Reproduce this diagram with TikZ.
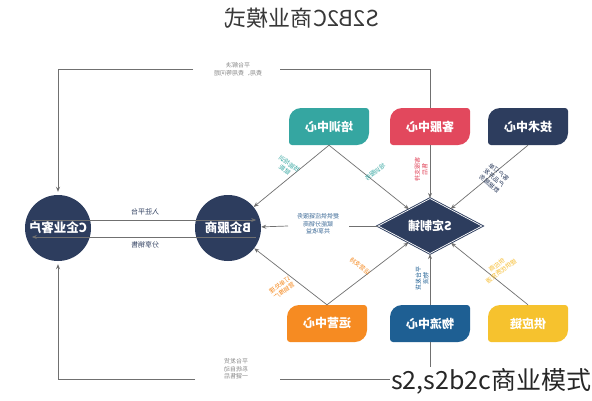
\documentclass[tikz,border=0pt]{standalone}
\usepackage{fontspec}
\setmainfont{Noto Sans CJK SC}
\usetikzlibrary{arrows.meta,shapes.geometric}
\definecolor{navy}{HTML}{2D3D5E}
\definecolor{teal}{HTML}{35A6A1}
\definecolor{rose}{HTML}{E2485D}
\definecolor{orng}{HTML}{F68B22}
\definecolor{blu}{HTML}{1E5F93}
\definecolor{yel}{HTML}{F6C22E}
\definecolor{lgray}{HTML}{707070}
\definecolor{tgray}{HTML}{8A8A8A}
\definecolor{lblue}{HTML}{3A6895}
\newcommand\leafbox[3]{%
  \fill[#3] (#1-40,#2+18.5-12) arc[start angle=180,end angle=90,radius=12]
    -- (#1+40-3,#2+18.5) arc[start angle=90,end angle=0,radius=3]
    -- (#1+40,#2-18.5+12) arc[start angle=0,end angle=-90,radius=12]
    -- (#1-40+3,#2-18.5) arc[start angle=-90,end angle=-180,radius=3] -- cycle;}
\tikzset{
  boxtext/.style={minimum width=80pt,minimum height=37pt,inner sep=0pt,text=white,
    font=\bfseries\fontsize{12}{14}\selectfont,xscale=-1},
  circ/.style={circle,fill=navy,minimum size=66pt,inner sep=0pt,text=white,
    font=\bfseries\fontsize{12.5}{14}\selectfont,xscale=-1},
  dia/.style={diamond,fill=navy,draw=navy,double=white,double distance=0.7pt,line width=0.9pt,
    minimum width=104pt,minimum height=54pt,inner sep=0pt,text=white,
    font=\bfseries\fontsize{12}{14}\selectfont},
  conn/.style={draw=lgray,line width=0.7pt},
  arr/.style={conn,-{Stealth[length=5pt,width=4pt]}},
  smalltxt/.style={font=\fontsize{6}{7.5}\selectfont,align=center,inner sep=0pt,xscale=-1},
  midtxt/.style={font=\fontsize{7}{8.5}\selectfont,align=center,inner sep=0pt,xscale=-1}
}
\begin{document}
\begin{tikzpicture}[x=1pt,y=1pt]
\useasboundingbox (0,0) rectangle (592,-400);
\fill[white] (0,0) rectangle (592,-400);

% title
\node[font=\fontsize{22}{24}\selectfont,text=black!78,xscale=-1] (title) at (302,-18) {S2B2C商业模式};

% boxes
\leafbox{329}{-126.5}{teal}
\leafbox{430}{-126.5}{rose}
\leafbox{528}{-126.5}{navy}
\leafbox{327}{-323.5}{orng}
\leafbox{430}{-323.5}{blu}
\leafbox{528}{-323.5}{yel}
\node[boxtext] (peixun) at (329,-126.5) {培训中心};
\node[boxtext] (kefu) at (430,-126.5) {客服中心};
\node[boxtext] (tech) at (528,-126.5) {技术中心};
\node[boxtext] (yy) at (327,-323.5) {运营中心};
\node[boxtext] (wuliu) at (430,-323.5) {物流中心};
\node[boxtext] (gyl) at (528,-323.5) {供应链};

% circles and diamond
\node[circ] (C) at (58,-228) {C企业客户};
\node[circ] (B) at (228,-228) {B企服商};
\node[dia] (S) at (430,-226) {\reflectbox{S定制铺}};

% connectors to diamond and B
\draw[arr] (peixun.south) -- (B);
\draw[arr] (peixun.south) -- (S);
\draw[arr] (kefu.south) -- (S.north);
\draw[arr] (tech.south) -- (S);
\draw[arr] (yy.north) -- (B);
\draw[arr] (yy.north) -- (S);
\draw[arr] (wuliu.north) -- (S.south);
\draw[arr] (gyl.north) -- (S);

% C <-> B
\draw[arr,shorten <=7pt,shorten >=5pt] ([yshift=8pt]C.east) -- ([yshift=8pt]B.west);
\draw[arr,shorten <=5pt,shorten >=7pt] ([yshift=-9pt]B.west) -- ([yshift=-9pt]C.east);
\node[midtxt,text=navy] (l1) at (145,-212) {入驻平台};
\node[midtxt,text=navy] (l2) at (145,-245) {分享销售};

% S -> B
\coordinate (m1) at (349,-226);
\coordinate (m2) at (288,-226);
\draw[conn] (S.west) -- (m1);
\draw[arr] (m2) -- (B);
\node[smalltxt,text=lblue] (l3) at (318,-224) {提供供应链服务\\赋能分销商\\共享收益};

% outer loops
\coordinate (t1) at (280,-69);
\coordinate (t2) at (193,-69);
\draw[conn] (kefu.north) |- (t1);
\draw[arr,shorten >=3pt] (t2) -| (C.north);
\node[smalltxt,text=tgray] (l4) at (238,-69) {平台解决\\费用、费用等问题};

\coordinate (b1) at (280,-379);
\coordinate (b2) at (195,-379);
\draw[conn] (wuliu.south) |- (b1);
\draw[arr,shorten >=3pt] (b2) -| (C.south);
\node[smalltxt,text=tgray] (l5) at (236,-369) {平台发货\\系统自动\\一键售后};

% diagonal labels
\node[smalltxt,text=teal,rotate=36] (d1) at (287,-167) {技能培训\\赋能};
\node[smalltxt,text=teal,rotate=-39] (d2) at (375,-172) {培训服务};
\node[smalltxt,text=rose,rotate=-90] (d3) at (421,-169) {客服支持\\售后};
\node[smalltxt,text=navy,rotate=39.5] (d4) at (494,-178) {客户订单\\产品开发\\数据服务};
\node[smalltxt,text=orng,rotate=-35.6] (d5) at (282,-288) {订单处理\\营销推广};
\node[smalltxt,text=orng,rotate=37.6] (d6) at (360,-266) {运营支持};
\node[smalltxt,text=blu,rotate=-90] (d7) at (422,-278) {平台发货\\物流};
\node[smalltxt,text=yel!90!orange,rotate=-36.6] (d8) at (499,-268) {供应商\\提供优质货源};

% caption overlay
\node[fill=white,inner sep=1.5pt,anchor=east,font=\fontsize{25}{27}\selectfont,text=black!85] (cap) at (593,-381) {s2,s2b2c商业模式};
\end{tikzpicture}
\end{document}
